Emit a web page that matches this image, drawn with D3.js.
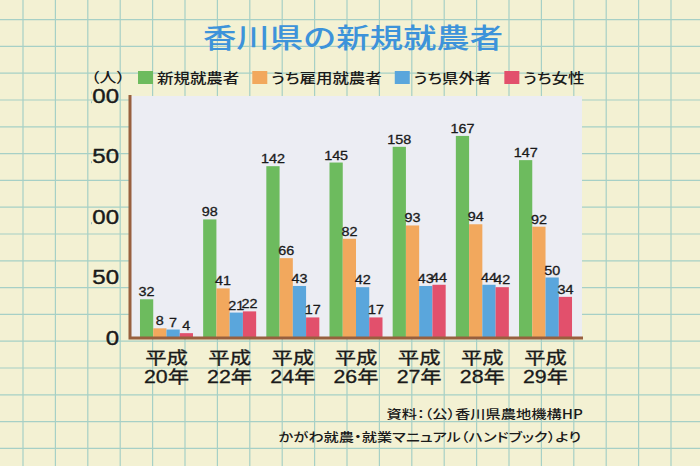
<!DOCTYPE html>
<meta charset="utf-8">
<title>香川県の新規就農者</title>
<style>
    body {
        margin: 0;
        background: #f3f1d3;
    }

    text {
        font-family: "Liberation Sans", "Noto Sans CJK JP", sans-serif;
        fill: #1a1a1a;
    }

    .jp {
        font-family: "Noto Sans CJK JP", sans-serif;
    }

    .palt {
        font-feature-settings: "palt";
    }
</style>
<body>
<script src="https://cdnjs.cloudflare.com/ajax/libs/d3/7.8.5/d3.min.js"></script>
<script>
    var years = ["平成20年", "平成22年", "平成24年", "平成26年", "平成27年", "平成28年", "平成29年"];
    var series = ["新規就農者", "うち雇用就農者", "うち県外者", "うち女性"];
    var newFarmers = [32, 98, 142, 145, 158, 167, 147];
    var employed = [8, 41, 66, 82, 93, 94, 92];
    var fromOutside = [7, 21, 43, 42, 43, 44, 50];
    var women = [4, 22, 17, 17, 44, 42, 34];
    var yTicks = [0, 50, 100, 150, 200];
    var colors = ["#6dbb5e", "#f2a85d", "#5aa6dc", "#e2506c"];

    var W = 700, H = 466;
    var SX = 1.22; // the picture is a bit wide, so is the text
    var pLeft = 130, pRight = 582, pTop = 96, pBottom = 338;

    var values = [newFarmers, employed, fromOutside, women];
    var table = years.map(function (y, i) {
        return {year: y, vals: values.map(function (s) { return s[i]; })};
    });

    var svg = d3.select("body").append("svg")
        .attr("width", W)
        .attr("height", H);

    // graph paper
    var grid = svg.append("g").attr("stroke", "#a6d0c6").attr("stroke-width", 1.2);
    grid.selectAll(".v").data(d3.range(-1, 22)).enter().append("line")
        .attr("x1", function (k) { return 23 + 32.4 * k; })
        .attr("x2", function (k) { return 23 + 32.4 * k; })
        .attr("y1", 0).attr("y2", H);
    grid.selectAll(".h").data(d3.range(0, 18)).enter().append("line")
        .attr("y1", function (k) { return 19.6 + 26.8 * k; })
        .attr("y2", function (k) { return 19.6 + 26.8 * k; })
        .attr("x1", 0).attr("x2", W);

    function place(sel, x, y, sx) {
        return sel.attr("transform", "translate(" + x + "," + y + ") scale(" + (sx || SX) + ",1)");
    }

    // title
    svg.append("text").attr("class", "jp")
        .attr("x", 353).attr("y", 48)
        .attr("text-anchor", "middle")
        .attr("font-size", 27)
        .attr("font-weight", 500)
        .attr("textLength", 300)
        .attr("lengthAdjust", "spacingAndGlyphs")
        .style("fill", "#3d93da")
        .text("香川県の新規就農者");

    // legend
    place(svg.append("text").attr("class", "jp palt").attr("font-size", 14).attr("font-weight", 500)
        .attr("text-anchor", "middle").text("（人）"), 108, 82);

    var lx = 138;
    series.forEach(function (name, i) {
        svg.append("rect")
            .attr("x", lx).attr("y", 71)
            .attr("width", 15).attr("height", 13)
            .attr("fill", colors[i]);
        var t = place(svg.append("text").attr("class", "jp palt")
            .attr("font-size", 13.5)
            .attr("font-weight", 500)
            .text(name), lx + 19, 83);
        lx += 19 + t.node().getBBox().width * SX + 13;
    });

    // plot
    var x = d3.scaleBand().domain(years).range([pLeft, pRight]).paddingInner(0.161).paddingOuter(0.158);
    var xs = d3.scaleBand().domain(series).range([0, x.bandwidth()]);
    var y = d3.scaleLinear().domain([0, 200]).range([pBottom, pTop]);

    svg.append("rect")
        .attr("x", pLeft).attr("y", pTop)
        .attr("width", pRight - pLeft).attr("height", pBottom - pTop)
        .attr("fill", "#ecedf3");

    var groups = svg.selectAll(".grp").data(table).enter().append("g")
        .attr("class", "grp")
        .attr("transform", function (d) { return "translate(" + x(d.year) + ",0)"; });

    groups.selectAll("rect").data(function (d) { return d.vals; }).enter().append("rect")
        .attr("x", function (v, j) { return xs(series[j]); })
        .attr("y", function (v) { return y(v); })
        .attr("width", xs.bandwidth())
        .attr("height", function (v) { return y(0) - y(v); })
        .attr("fill", function (v, j) { return colors[j]; });

    groups.selectAll("text").data(function (d) { return d.vals; }).enter().append("text")
        .attr("font-size", 12.5)
        .attr("text-anchor", "middle")
        .attr("stroke", "#1a1a1a")
        .attr("stroke-width", 0.3)
        .attr("transform", function (v, j) {
            return "translate(" + (xs(series[j]) + xs.bandwidth() / 2) + "," + (y(v) - 3) + ") scale(1.15,1)";
        })
        .text(function (v) { return v; });

    // x labels
    years.forEach(function (yr) {
        var cx = x(yr) + x.bandwidth() / 2;
        var t = place(svg.append("text").attr("font-size", 17.5).attr("text-anchor", "middle")
            .attr("stroke", "#1a1a1a").attr("stroke-width", 0.3), cx, 364);
        t.append("tspan").attr("x", 0).text(yr.slice(0, 2));
        t.append("tspan").attr("x", 0).attr("dy", 19).text(yr.slice(2));
    });

    // y axis, leading digits clipped as in the picture
    svg.append("clipPath").attr("id", "yclip")
        .append("rect").attr("x", 91.5).attr("y", 0).attr("width", W).attr("height", H);

    var clipG = svg.append("g").attr("clip-path", "url(#yclip)");
    var ya = clipG.append("g")
        .attr("transform", "translate(" + pLeft + ",0)")
        .call(d3.axisLeft(y).tickValues(yTicks).tickSize(0).tickPadding(0));
    ya.select(".domain").remove();
    ya.selectAll("text")
        .attr("x", 0)
        .attr("font-size", 19.5)
        .attr("font-family", "Liberation Sans, sans-serif")
        .attr("fill", "#1a1a1a")
        .attr("stroke", "#1a1a1a")
        .attr("stroke-width", 0.4)
        .attr("transform", "translate(-11,0) scale(1.23,1)");

    svg.append("path")
        .attr("d", "M" + pLeft + "," + (pTop - 1) + "V" + pBottom + "H" + (pRight + 1))
        .attr("fill", "none")
        .attr("stroke", "#98603f")
        .attr("stroke-width", 3);

    // source
    place(svg.append("text").attr("class", "jp palt").attr("font-size", 12.5).attr("font-weight", 500)
        .attr("text-anchor", "end").text("資料：（公）香川県農地機構HP"), 583, 419);
    place(svg.append("text").attr("class", "jp palt").attr("font-size", 12.5).attr("font-weight", 500)
        .attr("text-anchor", "end").text("かがわ就農・就業マニュアル（ハンドブック）より"), 581, 442);
</script>
